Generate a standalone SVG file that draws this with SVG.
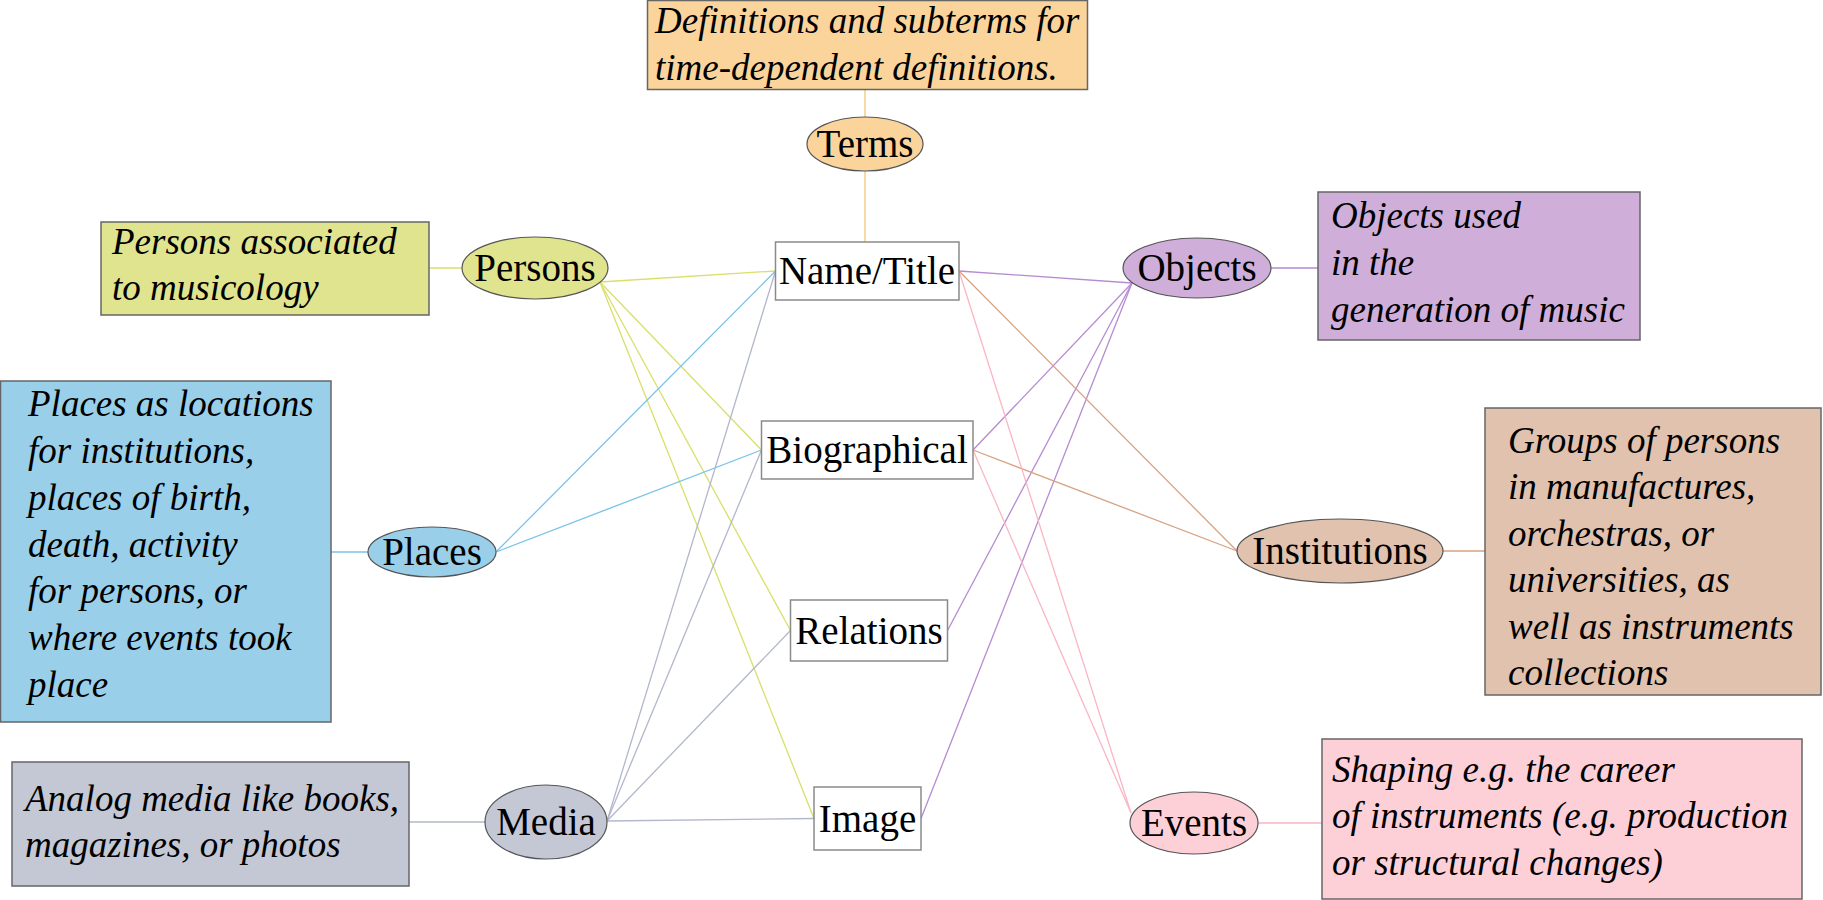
<svg xmlns="http://www.w3.org/2000/svg" width="1823" height="900" viewBox="0 0 1823 900" font-family="Liberation Serif, Tinos, Times New Roman, DejaVu Serif, serif">
<style>
.lbl{font-size:39px;fill:#000;text-anchor:middle}
.desc{font-size:37px;font-style:italic;fill:#000}
.box{fill:#fff;stroke:#8a8a8a;stroke-width:1.5}
.dbox{stroke:#666;stroke-width:1.5}
.ell{stroke:#555;stroke-width:1.2}
#connectors line{stroke-width:1.3;fill:none}
.c-terms{stroke:#f8c673}
.c-pers{stroke:#d9df6a}
.c-place{stroke:#78c2ea}
.c-media{stroke:#b2b7cb}
.c-obj{stroke:#b58bd2}
.c-inst{stroke:#d7a284}
.c-ev{stroke:#fbb5c3}
</style>
<rect width="1823" height="900" fill="#fff"/>
<g id="connectors">
<line class="c-terms" x1="865" y1="89.5" x2="865" y2="117"/>
<line class="c-terms" x1="865" y1="171" x2="865" y2="242"/>
<line class="c-pers" x1="429" y1="268" x2="462" y2="268"/>
<line class="c-pers" x1="600" y1="282" x2="775.5" y2="271"/>
<line class="c-pers" x1="600" y1="282" x2="761.5" y2="450"/>
<line class="c-pers" x1="600" y1="282" x2="790.5" y2="630.5"/>
<line class="c-pers" x1="600" y1="282" x2="814" y2="818.5"/>
<line class="c-place" x1="331" y1="552" x2="368" y2="552"/>
<line class="c-place" x1="496" y1="552" x2="775.5" y2="271"/>
<line class="c-place" x1="496" y1="552" x2="761.5" y2="450"/>
<line class="c-media" x1="409" y1="822" x2="485" y2="822"/>
<line class="c-media" x1="607" y1="821" x2="775.5" y2="271"/>
<line class="c-media" x1="607" y1="821" x2="761.5" y2="450"/>
<line class="c-media" x1="607" y1="821" x2="790.5" y2="630.5"/>
<line class="c-media" x1="607" y1="821" x2="814" y2="818.5"/>
<line class="c-obj" x1="959" y1="271" x2="1132" y2="283"/>
<line class="c-obj" x1="973" y1="450" x2="1132" y2="283"/>
<line class="c-obj" x1="947.5" y1="630.5" x2="1132" y2="283"/>
<line class="c-obj" x1="921" y1="818.5" x2="1132" y2="283"/>
<line class="c-obj" x1="1271" y1="268" x2="1318" y2="268"/>
<line class="c-inst" x1="959" y1="271" x2="1237" y2="551"/>
<line class="c-inst" x1="973" y1="450" x2="1237" y2="551"/>
<line class="c-inst" x1="1443" y1="551" x2="1485" y2="551"/>
<line class="c-ev" x1="959" y1="271" x2="1131" y2="813"/>
<line class="c-ev" x1="973" y1="450" x2="1131" y2="813"/>
<line class="c-ev" x1="1258" y1="823" x2="1322" y2="823"/>
</g>
<g id="terms-desc">
<rect class="dbox" x="647.5" y="0.5" width="440" height="89" fill="#fad49b"/>
<text class="desc" x="655" y="33">Definitions and subterms for</text>
<text class="desc" x="655" y="79.5">time-dependent definitions.</text>
</g>
<g id="terms">
<ellipse class="ell" cx="865" cy="144" rx="58" ry="27" fill="#fad49b"/>
<text class="lbl" x="865" y="157">Terms</text>
</g>
<g id="persons-desc">
<rect class="dbox" x="101" y="222" width="328" height="93" fill="#e0e48f"/>
<text class="desc" x="112" y="254">Persons associated</text>
<text class="desc" x="112" y="300">to musicology</text>
</g>
<g id="persons">
<ellipse class="ell" cx="535" cy="268" rx="73" ry="31" fill="#e0e48f"/>
<text class="lbl" x="535" y="281">Persons</text>
</g>
<g id="places-desc">
<rect class="dbox" x="0.5" y="381" width="330.5" height="341" fill="#9acfe9"/>
<text class="desc" x="28" y="416">Places as locations</text>
<text class="desc" x="28" y="463">for institutions,</text>
<text class="desc" x="28" y="509.5">places of birth,</text>
<text class="desc" x="28" y="556.5">death, activity</text>
<text class="desc" x="28" y="603">for persons, or</text>
<text class="desc" x="28" y="650">where events took</text>
<text class="desc" x="28" y="696.5">place</text>
</g>
<g id="places">
<ellipse class="ell" cx="432" cy="552" rx="64" ry="25" fill="#9acfe9"/>
<text class="lbl" x="432" y="565">Places</text>
</g>
<g id="media-desc">
<rect class="dbox" x="12" y="762" width="397" height="124" fill="#c3c8d4"/>
<text class="desc" x="25" y="811">Analog media like books,</text>
<text class="desc" x="25" y="857">magazines, or photos</text>
</g>
<g id="media">
<ellipse class="ell" cx="546" cy="822" rx="61" ry="37" fill="#c3c8d4"/>
<text class="lbl" x="546" y="835">Media</text>
</g>
<g id="name-title">
<rect class="box" x="775.5" y="242" width="183.5" height="58"/>
<text class="lbl" x="867" y="284">Name/Title</text>
</g>
<g id="biographical">
<rect class="box" x="761.5" y="421" width="211.5" height="58"/>
<text class="lbl" x="867" y="463">Biographical</text>
</g>
<g id="relations">
<rect class="box" x="790.5" y="600" width="157" height="61"/>
<text class="lbl" x="869" y="644">Relations</text>
</g>
<g id="image">
<rect class="box" x="814" y="787" width="107" height="63"/>
<text class="lbl" x="867.5" y="832">Image</text>
</g>
<g id="objects">
<ellipse class="ell" cx="1197" cy="268" rx="74" ry="30" fill="#cfafd9"/>
<text class="lbl" x="1197" y="281">Objects</text>
</g>
<g id="objects-desc">
<rect class="dbox" x="1318" y="192" width="322" height="148" fill="#cfafd9"/>
<text class="desc" x="1331" y="228">Objects used</text>
<text class="desc" x="1331" y="275">in the</text>
<text class="desc" x="1331" y="322">generation of music</text>
</g>
<g id="institutions">
<ellipse class="ell" cx="1340" cy="551" rx="103" ry="32" fill="#e0c2ae"/>
<text class="lbl" x="1340" y="564">Institutions</text>
</g>
<g id="institutions-desc">
<rect class="dbox" x="1485" y="408" width="336" height="287" fill="#e0c2ae"/>
<text class="desc" x="1508" y="452.5">Groups of persons</text>
<text class="desc" x="1508" y="499">in manufactures,</text>
<text class="desc" x="1508" y="545.5">orchestras, or</text>
<text class="desc" x="1508" y="592">universities, as</text>
<text class="desc" x="1508" y="638.5">well as instruments</text>
<text class="desc" x="1508" y="685">collections</text>
</g>
<g id="events">
<ellipse class="ell" cx="1194" cy="823" rx="64" ry="31" fill="#fdd0d8"/>
<text class="lbl" x="1194" y="836">Events</text>
</g>
<g id="events-desc">
<rect class="dbox" x="1322" y="739" width="480" height="160" fill="#fdd0d8"/>
<text class="desc" x="1332" y="781.5">Shaping e.g. the career</text>
<text class="desc" x="1332" y="828">of instruments (e.g. production</text>
<text class="desc" x="1332" y="875">or structural changes)</text>
</g>
</svg>
